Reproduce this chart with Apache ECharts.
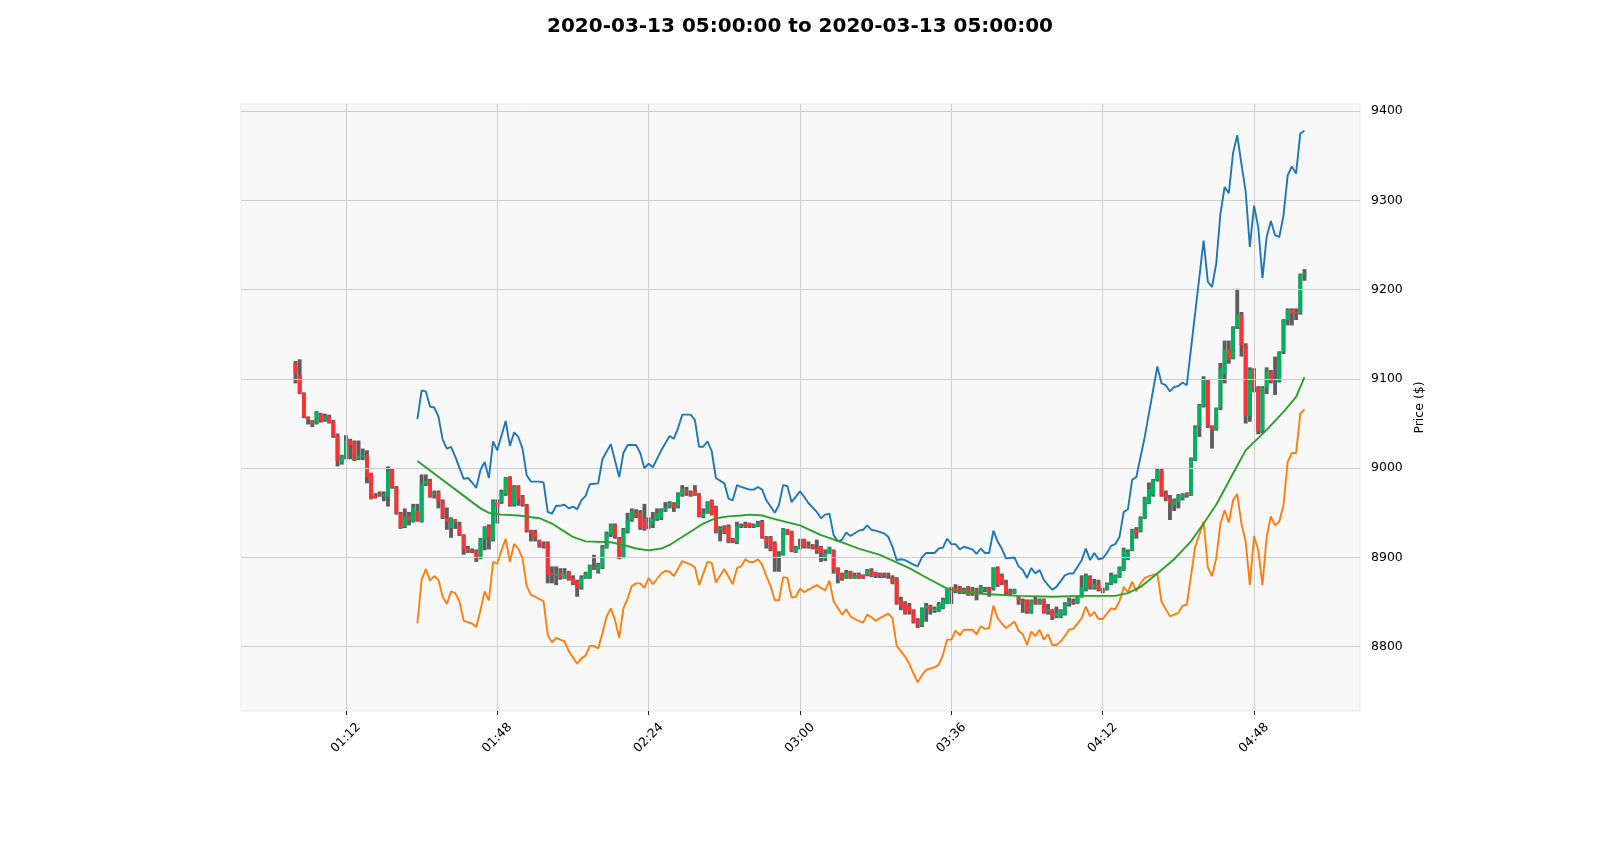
<!DOCTYPE html>
<html>
    <head>
        <meta charset="utf-8">
        <title>BTC 1m</title>
        <script src="https://cdn.jsdelivr.net/npm/echarts@6/dist/echarts.min.js"></script>
        <style type="text/css">
            *{margin: 0}
            body{background: #fff}
        </style>
    </head>
    <body>
        <div id="main" style="width: 1600px;height:866px;"></div>
        <script type="text/javascript">
        // one candle per minute, minute 0 = 01:00
        var open = [9118,9104,9084,9057,9053,9050,9061,9054,9058,9052,9037,9006,9011,9031,9030,9011,9012,9015,8994,8969,
            8972,8969,8968,8998,8979,8950,8935,8946,8940,8952,8940,8982,8986,8970,8973,8964,8944,8933,8942,8936,
            8925,8910,8908,8908,8899,8920,8935,8920,8962,8962,8971,8990,8959,8980,8968,8959,8930,8929,8919,8914,
            8917,8882,8879,8882,8877,8884,8877,8873,8866,8877,8877,8889,8885,8888,8911,8925,8936,8922,8900,8929,
            8942,8950,8950,8943,8935,8937,8943,8944,8953,8957,8961,8957,8970,8976,8972,8976,8970,8946,8950,8964,
            8956,8931,8934,8936,8920,8917,8935,8938,8938,8935,8935,8940,8923,8923,8916,8900,8903,8931,8929,8906,
            8910,8920,8914,8914,8911,8912,8900,8905,8908,8888,8882,8877,8884,8877,8881,8880,8880,8885,8883,8881,
            8881,8880,8878,8876,8852,8849,8845,8841,8830,8824,8843,8846,8840,8840,8843,8849,8865,8866,8866,8862,
            8867,8860,8864,8862,8863,8866,8865,8888,8880,8871,8862,8860,8856,8852,8852,8838,8852,8848,8853,8839,
            8841,8834,8833,8836,8848,8851,8849,8856,8864,8878,8866,8871,8864,8864,8870,8872,8878,8886,8899,8908,
            8931,8929,8944,8961,8970,8987,8998,8972,8966,8959,8962,8966,8972,8970,9009,9047,9070,9098,9047,9043,
            9067,9105,9133,9123,9158,9172,9138,9058,9110,9090,9041,9090,9108,9098,9098,9130,9166,9177,9175,9174,
            9217];
        var close = [9106,9084,9057,9054,9050,9063,9052,9058,9051,9036,9008,9013,9031,9026,9009,9014,9015,8990,8966,8967,
            8969,8971,8997,8979,8950,8933,8946,8942,8956,8941,8982,8986,8968,8972,8963,8944,8940,8944,8939,8925,
            8909,8907,8906,8899,8921,8934,8922,8963,8957,8974,8989,8959,8979,8966,8959,8929,8926,8922,8914,8912,
            8880,8880,8882,8878,8882,8875,8870,8866,8877,8882,8891,8888,8892,8912,8927,8936,8923,8900,8931,8942,
            8952,8946,8933,8932,8940,8943,8950,8953,8956,8961,8956,8972,8977,8972,8970,8970,8946,8950,8962,8948,
            8929,8933,8928,8918,8917,8935,8936,8935,8934,8936,8939,8923,8916,8908,8899,8902,8932,8926,8907,8911,
            8913,8912,8912,8910,8907,8905,8905,8911,8886,8881,8876,8883,8877,8880,8877,8877,8885,8879,8879,8879,
            8879,8879,8872,8849,8845,8838,8840,8828,8824,8843,8846,8842,8843,8848,8853,8865,8861,8862,8862,8864,
            8858,8863,8860,8867,8865,8862,8888,8869,8871,8860,8860,8864,8852,8850,8839,8852,8849,8852,8838,8842,
            8833,8838,8841,8849,8851,8849,8856,8867,8880,8866,8870,8864,8862,8871,8880,8880,8889,8909,8906,8931,
            8926,8944,8966,8977,8987,8998,8970,8966,8961,8964,8970,8971,8969,9011,9046,9071,9099,9047,9043,9067,
            9112,9133,9122,9158,9172,9138,9058,9110,9090,9041,9090,9108,9097,9100,9130,9166,9177,9173,9174,9217,
            9219];
        var high = [9120,9122,9085,9058,9054,9064,9062,9061,9060,9054,9039,9015,9037,9033,9031,9031,9022,9020,8995,8972,
            8974,8974,9002,9000,8980,8951,8955,8951,8960,8960,8993,8993,8988,8975,8975,8965,8956,8945,8943,8940,
            8926,8913,8910,8909,8922,8935,8937,8965,8965,8976,8990,8991,8981,8981,8970,8960,8931,8931,8920,8918,
            8918,8890,8890,8888,8888,8885,8880,8875,8880,8884,8892,8903,8894,8914,8929,8938,8938,8923,8933,8950,
            8955,8954,8953,8960,8945,8951,8955,8955,8962,8963,8962,8973,8981,8979,8975,8981,8972,8955,8963,8965,
            8958,8935,8936,8937,8922,8940,8938,8940,8939,8938,8941,8942,8924,8924,8918,8907,8933,8932,8930,8913,
            8921,8921,8918,8915,8920,8913,8909,8912,8909,8889,8883,8886,8885,8883,8883,8881,8887,8888,8884,8883,
            8883,8883,8880,8878,8856,8851,8849,8842,8832,8844,8849,8847,8845,8850,8855,8866,8867,8870,8868,8866,
            8868,8867,8866,8869,8867,8867,8889,8890,8882,8875,8865,8865,8857,8854,8853,8853,8856,8854,8854,8848,
            8842,8845,8842,8850,8855,8854,8857,8880,8882,8880,8876,8875,8866,8872,8883,8881,8890,8911,8909,8932,
            8934,8946,8968,8984,8988,9000,9000,8975,8970,8966,8971,8972,8973,9012,9048,9072,9103,9100,9048,9068,
            9118,9143,9143,9159,9201,9175,9140,9113,9112,9092,9092,9113,9110,9125,9131,9167,9179,9179,9179,9218,
            9223];
        var low = [9095,9083,9056,9049,9046,9049,9051,9052,9050,9034,9002,9004,9010,9010,9008,9009,9009,8983,8965,8966,
            8968,8963,8957,8977,8948,8932,8933,8936,8939,8940,8939,8980,8967,8966,8955,8943,8931,8922,8932,8924,
            8903,8905,8905,8895,8898,8908,8909,8918,8938,8960,8969,8957,8957,8958,8957,8928,8918,8918,8911,8910,
            8871,8871,8869,8875,8876,8874,8869,8856,8864,8876,8876,8886,8882,8887,8910,8923,8921,8898,8899,8927,
            8940,8944,8931,8930,8932,8933,8941,8942,8951,8955,8951,8955,8968,8969,8968,8969,8945,8944,8949,8947,
            8927,8918,8926,8916,8916,8915,8933,8933,8933,8933,8934,8921,8910,8907,8884,8884,8902,8925,8906,8905,
            8909,8910,8910,8909,8904,8895,8896,8904,8882,8871,8874,8876,8876,8876,8876,8876,8879,8878,8877,8877,
            8877,8876,8870,8847,8841,8836,8836,8826,8821,8822,8828,8836,8838,8839,8842,8848,8848,8860,8859,8859,
            8857,8857,8852,8860,8861,8856,8863,8867,8869,8858,8858,8859,8847,8838,8837,8837,8847,8847,8837,8836,
            8830,8832,8832,8835,8845,8847,8848,8855,8862,8864,8864,8862,8860,8863,8869,8871,8877,8885,8897,8907,
            8921,8928,8943,8960,8968,8985,8968,8963,8942,8952,8955,8964,8967,8969,9008,9035,9068,9045,9022,9042,
            9065,9095,9117,9122,9156,9125,9050,9052,9085,9038,9039,9083,9095,9082,9096,9128,9160,9160,9166,9172,
            9210];

        // bands: [minute, price] at the line's vertices
        var upperBand = [[29,9055],[30,9087],[31,9086],[32,9069],[33,9068],[34,9058],[35,9032],[36,9022],[37,9024],[38,9013],
            [40,8988],[41,8989],[42,8984],[43,8978],[44,8998],[45,9007],[46,8989],[47,9030],[48,9020],[50,9053],
            [51,9025],[52,9040],[53,9035],[54,9022],[55,8992],[56,8985],[58,8985],[59,8984],[60,8951],[61,8949],
            [62,8958],[63,8958],[64,8959],[65,8955],[66,8957],[67,8954],[68,8964],[69,8969],[70,8982],[72,8983],
            [73,9010],[75,9027],[77,8990],[78,9017],[79,9026],[81,9026],[82,9017],[83,9000],[84,9005],[85,9001],
            [87,9020],[89,9036],[90,9033],[91,9045],[92,9060],[94,9060],[95,9054],[96,9024],[97,9024],[98,9030],
            [99,9019],[100,8989],[102,8983],[103,8966],[104,8964],[105,8981],[106,8979],[108,8976],[109,8976],[110,8979],
            [111,8976],[112,8964],[113,8957],[114,8950],[115,8959],[116,8981],[117,8980],[118,8962],[120,8974],[121,8968],
            [122,8961],[124,8951],[125,8944],[126,8948],[127,8949],[128,8925],[129,8918],[130,8920],[131,8928],[132,8924],
            [134,8930],[135,8931],[136,8936],[137,8931],[138,8930],[140,8927],[141,8923],[142,8912],[143,8897],[144,8898],
            [145,8897],[147,8892],[148,8890],[149,8900],[150,8905],[152,8905],[153,8910],[154,8911],[155,8921],[156,8915],
            [157,8915],[158,8909],[159,8912],[161,8909],[162,8904],[163,8910],[164,8905],[165,8905],[166,8930],[167,8918],
            [168,8910],[169,8899],[171,8900],[172,8890],[173,8886],[174,8877],[175,8888],[176,8882],[177,8886],[178,8875],
            [179,8869],[180,8864],[181,8867],[183,8880],[184,8882],[185,8882],[187,8897],[188,8910],[189,8897],[190,8905],
            [191,8898],[192,8899],[193,8905],[194,8913],[195,8915],[196,8923],[197,8951],[198,8954],[199,8987],[200,8990],
            [202,9035],[205,9114],[206,9095],[207,9093],[208,9086],[209,9091],[210,9092],[211,9096],[212,9093],[216,9255],
            [217,9209],[218,9203],[219,9229],[220,9285],[221,9315],[222,9308],[223,9353],[224,9373],[225,9341],[226,9310],
            [227,9248],[228,9294],[229,9270],[230,9213],[231,9259],[232,9277],[233,9261],[234,9259],[235,9283],[236,9328],
            [237,9338],[238,9330],[239,9375],[240,9378]];
        var lowerBand = [[29,8826],[30,8875],[31,8887],[32,8874],[33,8879],[34,8875],[35,8856],[36,8848],[37,8862],[38,8860],
            [39,8851],[40,8829],[42,8826],[43,8822],[44,8841],[45,8862],[46,8852],[47,8895],[48,8893],[49,8908],
            [50,8921],[51,8895],[52,8915],[53,8910],[54,8899],[55,8868],[56,8858],[57,8856],[59,8851],[60,8813],
            [61,8805],[62,8810],[64,8806],[65,8795],[66,8788],[67,8781],[68,8787],[69,8790],[70,8801],[71,8801],
            [72,8798],[73,8815],[74,8834],[75,8843],[76,8830],[77,8810],[78,8843],[79,8854],[80,8868],[81,8871],
            [82,8871],[83,8866],[84,8877],[85,8870],[87,8882],[88,8885],[89,8884],[90,8879],[92,8896],[94,8892],
            [95,8889],[96,8869],[98,8895],[99,8894],[100,8872],[102,8887],[104,8870],[105,8888],[106,8890],[107,8898],
            [108,8895],[109,8895],[110,8898],[111,8892],[112,8879],[113,8868],[114,8852],[115,8852],[116,8878],[117,8877],
            [118,8855],[119,8856],[120,8865],[121,8861],[122,8864],[124,8869],[126,8863],[127,8874],[128,8851],[130,8836],
            [131,8842],[132,8834],[133,8831],[135,8827],[136,8836],[137,8833],[138,8829],[139,8832],[141,8837],[142,8832],
            [143,8801],[145,8789],[146,8781],[147,8770],[148,8760],[149,8768],[150,8774],[152,8777],[153,8780],[154,8791],
            [155,8808],[156,8808],[157,8818],[158,8813],[159,8819],[161,8819],[162,8814],[163,8823],[164,8820],[165,8821],
            [166,8846],[167,8832],[168,8826],[169,8821],[171,8828],[172,8818],[173,8814],[174,8802],[175,8817],[176,8812],
            [177,8819],[178,8808],[179,8814],[180,8802],[181,8802],[182,8806],[183,8812],[184,8819],[185,8820],[187,8832],
            [188,8845],[189,8834],[190,8839],[191,8831],[192,8831],[194,8843],[195,8842],[196,8851],[197,8867],[198,8861],
            [199,8873],[200,8862],[201,8871],[202,8877],[203,8879],[205,8882],[206,8850],[208,8834],[210,8838],[211,8846],
            [212,8847],[214,8912],[216,8940],[217,8889],[218,8879],[219,8899],[220,8938],[221,8953],[222,8939],[223,8964],
            [224,8971],[225,8938],[226,8918],[227,8869],[228,8924],[229,8908],[230,8869],[231,8923],[232,8946],[233,8936],
            [234,8940],[235,8959],[236,9007],[237,9017],[238,9017],[239,9061],[240,9066]];
        var middleBand = [[29,9008],[44,8955],[46,8950],[49,8948],[53,8947],[58,8944],[61,8938],[64,8929],[66,8923],[69,8918],
            [75,8917],[78,8914],[81,8910],[84,8908],[87,8910],[89,8914],[93,8926],[97,8938],[100,8944],[103,8946],
            [106,8947],[108,8948],[111,8947],[114,8943],[120,8936],[125,8925],[130,8917],[134,8910],[139,8903],[146,8888],
            [151,8875],[155,8865],[158,8862],[164,8859],[172,8857],[180,8856],[187,8857],[195,8857],[198,8860],[201,8867],
            [205,8882],[209,8898],[213,8918],[216,8938],[219,8959],[223,8994],[226,9020],[231,9043],[235,9063],[238,9080],
            [240,9102]];

        var xTicks = [12, 48, 84, 120, 156, 192, 228];   // 01:12 ... 04:48
        var yTicks = [8800, 8900, 9000, 9100, 9200, 9300, 9400];

        var font = 'DejaVu Sans';
        var upColor = '#03b05f', downColor = '#fe3234', wickColor = '#5e5e5e';

        var candles = [];
        for (var i = 0; i < open.length; i++) {
            candles.push([i, open[i], close[i], low[i], high[i]]);
        }

        function hhmm(v) {
            var m = 60 + Math.round(v);
            var h = Math.floor(m / 60), mm = m % 60;
            return (h < 10 ? '0' : '') + h + ':' + (mm < 10 ? '0' : '') + mm;
        }

        function renderCandle(params, api) {
            var t = api.value(0), o = api.value(1), c = api.value(2), l = api.value(3), h = api.value(4);
            var w = api.size([0.92, 0])[0];
            var pl = api.coord([t, l]), ph = api.coord([t, h]);
            var po = api.coord([t, o]), pc = api.coord([t, c]);
            return {
                type: 'group',
                children: [{
                    type: 'rect',
                    shape: {x: pl[0] - w / 2, y: ph[1], width: w, height: Math.max(pl[1] - ph[1], 1)},
                    style: {fill: wickColor}
                }, {
                    type: 'rect',
                    shape: {x: po[0] - w / 2, y: Math.min(po[1], pc[1]), width: w, height: Math.max(Math.abs(po[1] - pc[1]), 1)},
                    style: {fill: c >= o ? upColor : downColor}
                }]
            };
        }

        // grid lines drawn above the candles, below the bands (matplotlib order)
        var gridLines = [];
        xTicks.forEach(function (v) { gridLines.push({xAxis: v}); });
        yTicks.forEach(function (v) { gridLines.push({yAxis: v}); });

        var myChart = echarts.init(document.getElementById('main'));
        myChart.setOption({
            animation: false,
            backgroundColor: '#ffffff',
            title: {
                text: '2020-03-13 05:00:00 to 2020-03-13 05:00:00',
                left: 'center',
                top: 12,
                textStyle: {fontFamily: font, fontSize: 20, fontWeight: 'bold', color: '#000'}
            },
            grid: {
                left: 241, right: 240, top: 104, bottom: 155,
                show: true, backgroundColor: '#f8f8f8', borderColor: '#ebebeb', borderWidth: 1
            },
            xAxis: {
                type: 'value',
                min: -12.96,
                max: 253.2,
                splitLine: {show: false},
                axisLine: {show: false},
                axisTick: {show: true, customValues: xTicks, length: 4, lineStyle: {color: '#222'}},
                axisLabel: {
                    customValues: xTicks, rotate: 45, align: 'center', verticalAlign: 'middle', margin: 27,
                    formatter: hhmm, fontFamily: font, fontSize: 12.5, color: '#000'
                }
            },
            yAxis: {
                type: 'value',
                position: 'right',
                min: 8728,
                max: 9408,
                splitLine: {show: false},
                axisLine: {show: false},
                axisTick: {show: true, customValues: yTicks, length: 4, lineStyle: {color: '#222'}},
                axisLabel: {
                    customValues: yTicks, margin: 11, fontFamily: font, fontSize: 12.5, color: '#000',
                    formatter: function (v) { return String(v); }
                },
                name: 'Price ($)',
                nameLocation: 'middle',
                nameGap: 49,
                nameRotate: 90,
                nameTextStyle: {fontFamily: font, fontSize: 12.5, color: '#000'}
            },
            series: [{
                name: 'candles',
                type: 'custom',
                renderItem: renderCandle,
                encode: {x: 0, y: [1, 2, 3, 4]},
                data: candles,
                z: 1
            }, {
                name: 'grid',
                type: 'line',
                data: [],
                z: 2,
                markLine: {
                    silent: true,
                    symbol: ['none', 'none'],
                    label: {show: false},
                    lineStyle: {color: '#cdcdcd', width: 1, type: 'solid'},
                    data: gridLines,
                    z: 2
                }
            }, {
                name: 'upper',
                type: 'line',
                data: upperBand,
                showSymbol: false,
                lineStyle: {color: '#1f77b4', width: 1.9},
                z: 3
            }, {
                name: 'lower',
                type: 'line',
                data: lowerBand,
                showSymbol: false,
                lineStyle: {color: '#ff7f0e', width: 1.9},
                z: 3
            }, {
                name: 'middle',
                type: 'line',
                data: middleBand,
                showSymbol: false,
                lineStyle: {color: '#2ca02c', width: 1.9},
                z: 3
            }]
        });
        </script>
    </body>
</html>
